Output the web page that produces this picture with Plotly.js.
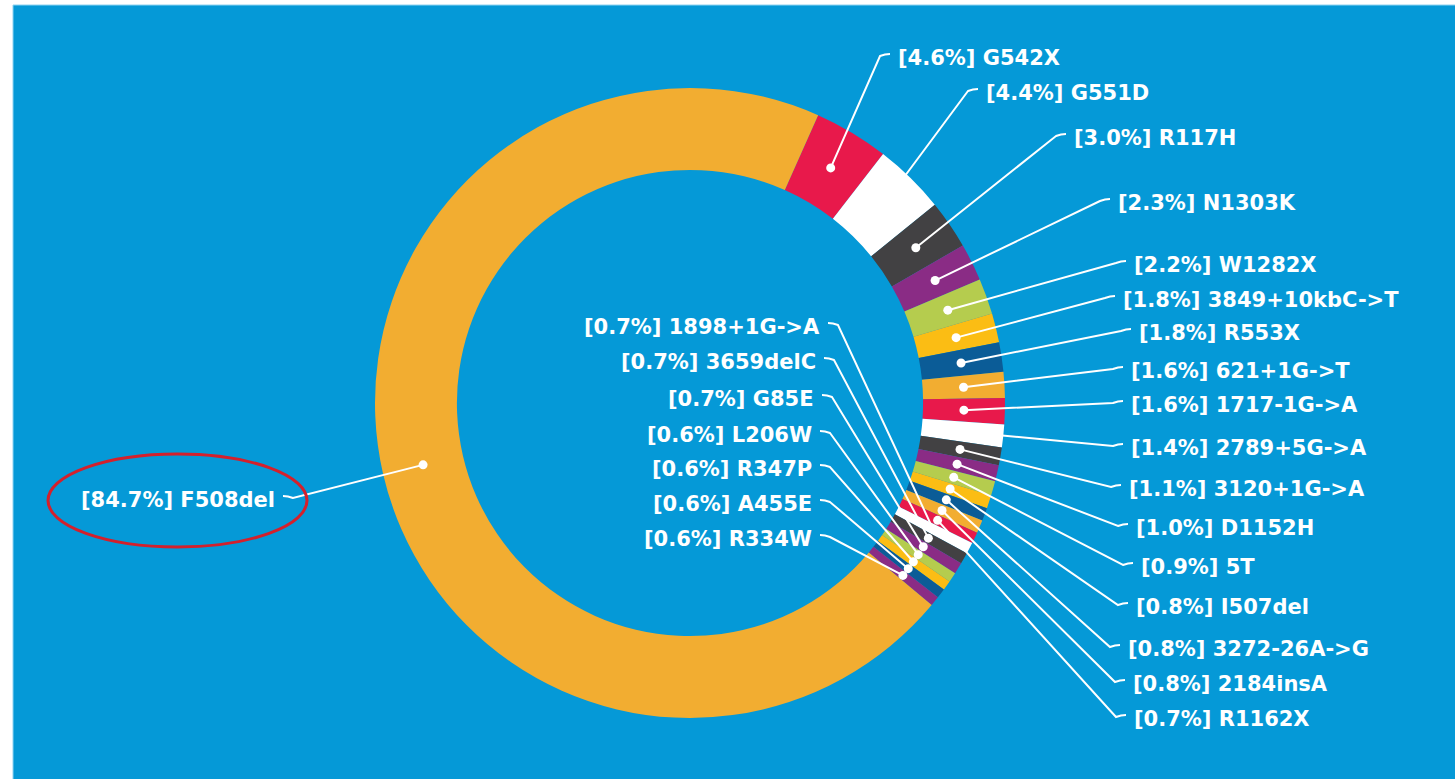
<!DOCTYPE html>
<html>
<head>
<meta charset="utf-8">
<script src="https://cdn.plot.ly/plotly-3.0.1.min.js"></script>
<style>
  html, body { margin: 0; padding: 0; background: #ffffff; }
  #chart { width: 1455px; height: 779px; }
</style>
</head>
<body>
<div id="chart"></div>
<script>
// ---------- data ----------
const mutations = [
  "G542X", "G551D", "R117H", "N1303K", "W1282X", "3849+10kbC->T", "R553X",
  "621+1G->T", "1717-1G->A", "2789+5G->A", "3120+1G->A", "D1152H", "5T",
  "I507del", "3272-26A->G", "2184insA", "R1162X",
  "1898+1G->A", "3659delC", "G85E", "L206W", "R347P", "A455E", "R334W",
  "F508del"
];
const percents = [
  4.6, 4.4, 3.0, 2.3, 2.2, 1.8, 1.8,
  1.6, 1.6, 1.4, 1.1, 1.0, 0.9,
  0.8, 0.8, 0.8, 0.7,
  0.7, 0.7, 0.7, 0.6, 0.6, 0.6, 0.6,
  84.7
];

// ---------- styles / layout ----------
const W = 1455, H = 779;
const BLUE = "#0599d7";
const palette = ["#e8194b", "#ffffff", "#424143", "#8a2c85", "#b5cc4e", "#fbbd14", "#0b5c97", "#f2ad31"];
const sliceColors = mutations.map((m, i) => palette[i % palette.length]);
sliceColors[23] = "#8a2c85";          // last small slice
sliceColors[24] = "#f2ad31";          // F508del

const cx = 690, cy = 403, R = 315, HOLE = 0.74, DOT_R = 274;
const ROT = 24;

// label anchor positions in pixels: [x, y, side]
const labelPos = [
  [897, 58, "r"], [985, 93, "r"], [1073, 138, "r"], [1117, 203, "r"], [1133, 265, "r"],
  [1122, 300, "r"], [1138, 333, "r"], [1130, 371, "r"], [1130, 405, "r"], [1130, 448, "r"],
  [1128, 489, "r"], [1135, 528, "r"], [1140, 567, "r"], [1135, 607, "r"], [1127, 649, "r"],
  [1132, 684, "r"], [1133, 719, "r"],
  [821, 327, "l"], [817, 362, "l"], [815, 399, "l"], [813, 435, "l"], [813, 469, "l"],
  [813, 504, "l"], [813, 539, "l"],
  [276, 500, "l"]
];

const px = x => x / W;
const py = y => 1 - y / H;

// ---------- pie ----------
const trace = {
  type: "pie",
  labels: mutations,
  values: percents,
  sort: false,
  direction: "clockwise",
  rotation: ROT,
  hole: HOLE,
  textinfo: "none",
  hoverinfo: "label+value",
  marker: { colors: sliceColors, line: { width: 0 } },
  domain: { x: [px(cx - R), px(cx + R)], y: [py(cy + R), py(cy - R)] },
  showlegend: false
};

// ---------- leader lines, dots, labels ----------
const total = percents.reduce((a, b) => a + b, 0);
const shapes = [];
const annotations = [];

shapes.push({
  type: "rect", xref: "paper", yref: "paper", layer: "below",
  x0: px(13), x1: 1.01, y0: -0.01, y1: py(5),
  fillcolor: BLUE, line: { color: "#8fd3f1", width: 1 }
});

let cum = 0;
percents.forEach((v, i) => {
  const mid = (ROT + (cum + v / 2) / total * 360) * Math.PI / 180;
  cum += v;
  const dx = cx + DOT_R * Math.sin(mid);
  const dy = cy - DOT_R * Math.cos(mid);
  const [lx, ly, side] = labelPos[i];
  let k1, k2;
  if (side === "r") { k1 = lx - 17; k2 = lx - 7; }
  else { k1 = lx + 17; k2 = lx + 7; }
  shapes.push({
    type: "path", xref: "paper", yref: "paper",
    path: `M ${px(dx)} ${py(dy)} L ${px(k1)} ${py(ly - 2)} Q ${px((k1 + k2) / 2)} ${py(ly - 4)} ${px(k2)} ${py(ly - 4)}`,
    line: { color: "#ffffff", width: 2 }
  });
  const r = 4.5;
  shapes.push({
    type: "circle", xref: "paper", yref: "paper",
    x0: px(dx - r), x1: px(dx + r), y0: py(dy + r), y1: py(dy - r),
    fillcolor: "#ffffff", line: { color: "#ffffff", width: 0 }
  });
  annotations.push({
    xref: "paper", yref: "paper",
    x: px(lx), y: py(ly),
    xanchor: side === "r" ? "left" : "right", yanchor: "middle",
    text: "[" + v.toFixed(1) + "%] " + mutations[i],
    showarrow: false, borderpad: 0,
    font: { family: "DejaVu Sans", size: 21, color: "#ffffff", weight: "bold" }
  });
});

// highlight ellipse around F508del
shapes.push({
  type: "circle", xref: "paper", yref: "paper",
  x0: px(48), x1: px(307), y0: py(547), y1: py(454),
  line: { color: "#d4202c", width: 3 }
});

const layout = {
  width: W, height: H,
  margin: { l: 0, r: 0, t: 0, b: 0 },
  paper_bgcolor: "#ffffff",
  plot_bgcolor: "rgba(0,0,0,0)",
  shapes: shapes,
  annotations: annotations,
  showlegend: false
};

Plotly.newPlot("chart", [trace], layout, { displayModeBar: false, responsive: false });
</script>
</body>
</html>
